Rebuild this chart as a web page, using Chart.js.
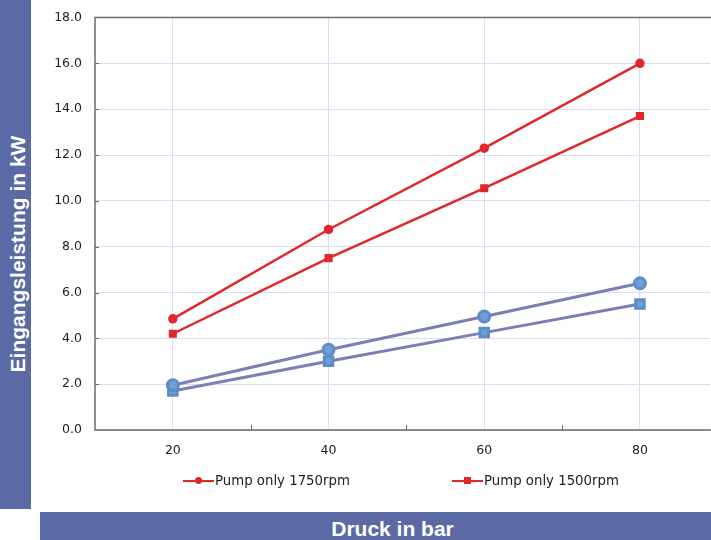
<!DOCTYPE html>
<html lang="de">
<head>
<meta charset="UTF-8">
<script src="https://cdn.jsdelivr.net/npm/chart.js"></script>
<style>
  body { margin: 0; width: 711px; height: 540px; overflow: hidden; background: #fff; font-family: "Liberation Sans", Arial, sans-serif; }
  #wrap { position: absolute; left: 0; top: -3px; width: 723px; height: 543px; }
  .bar { position: absolute; background: #5b6aa4; color: #fff; font-weight: bold; font-size: 21px; }
  #ylab { left: 0; top: 0; width: 31px; height: 509px; }
  #ylab span { position: absolute; left: 18px; top: 254px; transform: translate(-50%, -50%) rotate(-90deg); white-space: nowrap; }
  #xlab { left: 40px; top: 512px; width: 671px; height: 28px; text-align: center; line-height: 34px; }
  #xlab span { position: relative; left: 17px; }
  #legend { position: absolute; top: 473px; left: 0; width: 711px; font-family: "DejaVu Sans", sans-serif; font-size: 13.3px; color: #222; }
  .item { position: absolute; display: flex; align-items: center; }
  .swatch { position: relative; width: 31px; height: 2px; background: #e0282b; margin-right: 1px; }
  .swatch i { position: absolute; left: 12px; top: -3px; width: 7px; height: 7px; background: #e0282b; }
</style>
</head>
<body>
<div id="wrap"><canvas id="myChart" width="723" height="543"></canvas></div>
<div class="bar" id="ylab"><span>Eingangsleistung in kW</span></div>
<div class="bar" id="xlab"><span>Druck in bar</span></div>
<div id="legend"></div>
<script>
  let druck = [20, 40, 60, 80];
  let rpm1750 = [4.85, 8.75, 12.3, 16.0];
  let rpm1500 = [4.2, 7.5, 10.55, 13.7];
  let blueCircle = [1.95, 3.5, 4.95, 6.4];
  let blueSquare = [1.7, 3.0, 4.25, 5.5];
  let legendNames = ['Pump only 1750rpm', 'Pump only 1500rpm'];
  let legendLeft = [183, 452];

  function pts(arr) {
    return druck.map(function(x, i){ return {x: x, y: arr[i]}; });
  }

  // Rahmen + kleine Ticks innen
  let frame = {
    id: 'frame',
    afterDatasetsDraw: function(chart) {
      let c = chart.ctx, a = chart.chartArea, xs = chart.scales.x, ys = chart.scales.y;
      c.save();
      c.strokeStyle = '#6b6b6b';
      c.lineWidth = 1.5;
      c.beginPath();
      c.moveTo(a.right + 2, a.top);
      c.lineTo(a.left, a.top);
      c.lineTo(a.left, a.bottom);
      c.lineTo(a.right + 2, a.bottom);
      c.stroke();
      c.lineWidth = 1;
      c.beginPath();
      [30, 50, 70].forEach(function(v){
        let px = Math.round(xs.getPixelForValue(v)) + 0.5;
        c.moveTo(px, a.bottom); c.lineTo(px, a.bottom - 5);
      });
      for (let v = 2; v < 18; v += 2) {
        let py = Math.round(ys.getPixelForValue(v)) + 0.5;
        c.moveTo(a.left, py); c.lineTo(a.left + 4, py);
      }
      c.stroke();
      c.restore();
    }
  };

  let ctx = document.getElementById('myChart');
  let configs = {
    type: 'line',
    data: {
      datasets: [
        { label: legendNames[0], data: pts(rpm1750), borderColor: '#e0282b', backgroundColor: '#e0282b',
          borderWidth: 2.5, pointStyle: 'circle', pointRadius: 3.5, order: 1 },
        { label: legendNames[1], data: pts(rpm1500), borderColor: '#e0282b', backgroundColor: '#e0282b',
          borderWidth: 2.5, pointStyle: 'rect', pointRadius: 4, order: 2 },
        { label: 'blue1', data: pts(blueCircle), borderColor: '#7b7fb4', backgroundColor: '#6f9fd8',
          pointBorderColor: '#5d8cc8', borderWidth: 3, pointStyle: 'circle', pointRadius: 5.5, order: 3 },
        { label: 'blue2', data: pts(blueSquare), borderColor: '#7b7fb4', backgroundColor: '#6f9fd8',
          pointBorderColor: '#5d8cc8', borderWidth: 3, pointStyle: 'rect', pointRadius: 6, order: 4 }
      ]
    },
    options: {
      responsive: false,
      animation: false,
      layout: { padding: { left: 0, top: 12, right: 0, bottom: 0 } },
      plugins: { legend: { display: false }, tooltip: { enabled: false } },
      scales: {
        x: {
          type: 'linear', min: 10, max: 89,
          afterFit: function(s){ s.height = 110; },
          border: { display: false },
          grid: { color: function(c){ return c.tick && c.tick.value % 20 === 0 ? '#dcdcf2' : 'rgba(0,0,0,0)'; },
                  drawTicks: false },
          ticks: { stepSize: 10, padding: 13, color: '#222',
                   font: { family: 'DejaVu Sans', size: 12.5 },
                   callback: function(v){ return v % 20 === 0 && v >= 20 ? v : ''; } }
        },
        y: {
          min: 0, max: 18,
          afterFit: function(s){ s.width = 95; },
          border: { display: false },
          grid: { color: '#dcdcf2', drawTicks: false },
          ticks: { stepSize: 2, padding: 13, color: '#222',
                   font: { family: 'DejaVu Sans', size: 12.5 },
                   callback: function(v){ return v.toFixed(1); } }
        }
      }
    },
    plugins: [frame]
  };
  let myChart = new Chart(ctx, configs);

  // Legende nur fuer die roten Linien
  let lg = document.getElementById('legend');
  configs.data.datasets.slice(0, 2).forEach(function(ds, i){
    let it = document.createElement('div');
    it.className = 'item';
    it.style.left = legendLeft[i] + 'px';
    let sw = document.createElement('div');
    sw.className = 'swatch';
    let mk = document.createElement('i');
    if (ds.pointStyle === 'circle') mk.style.borderRadius = '50%';
    sw.appendChild(mk);
    it.appendChild(sw);
    let t = document.createElement('span');
    t.textContent = ds.label;
    it.appendChild(t);
    lg.appendChild(it);
  });
</script>
</body>
</html>
